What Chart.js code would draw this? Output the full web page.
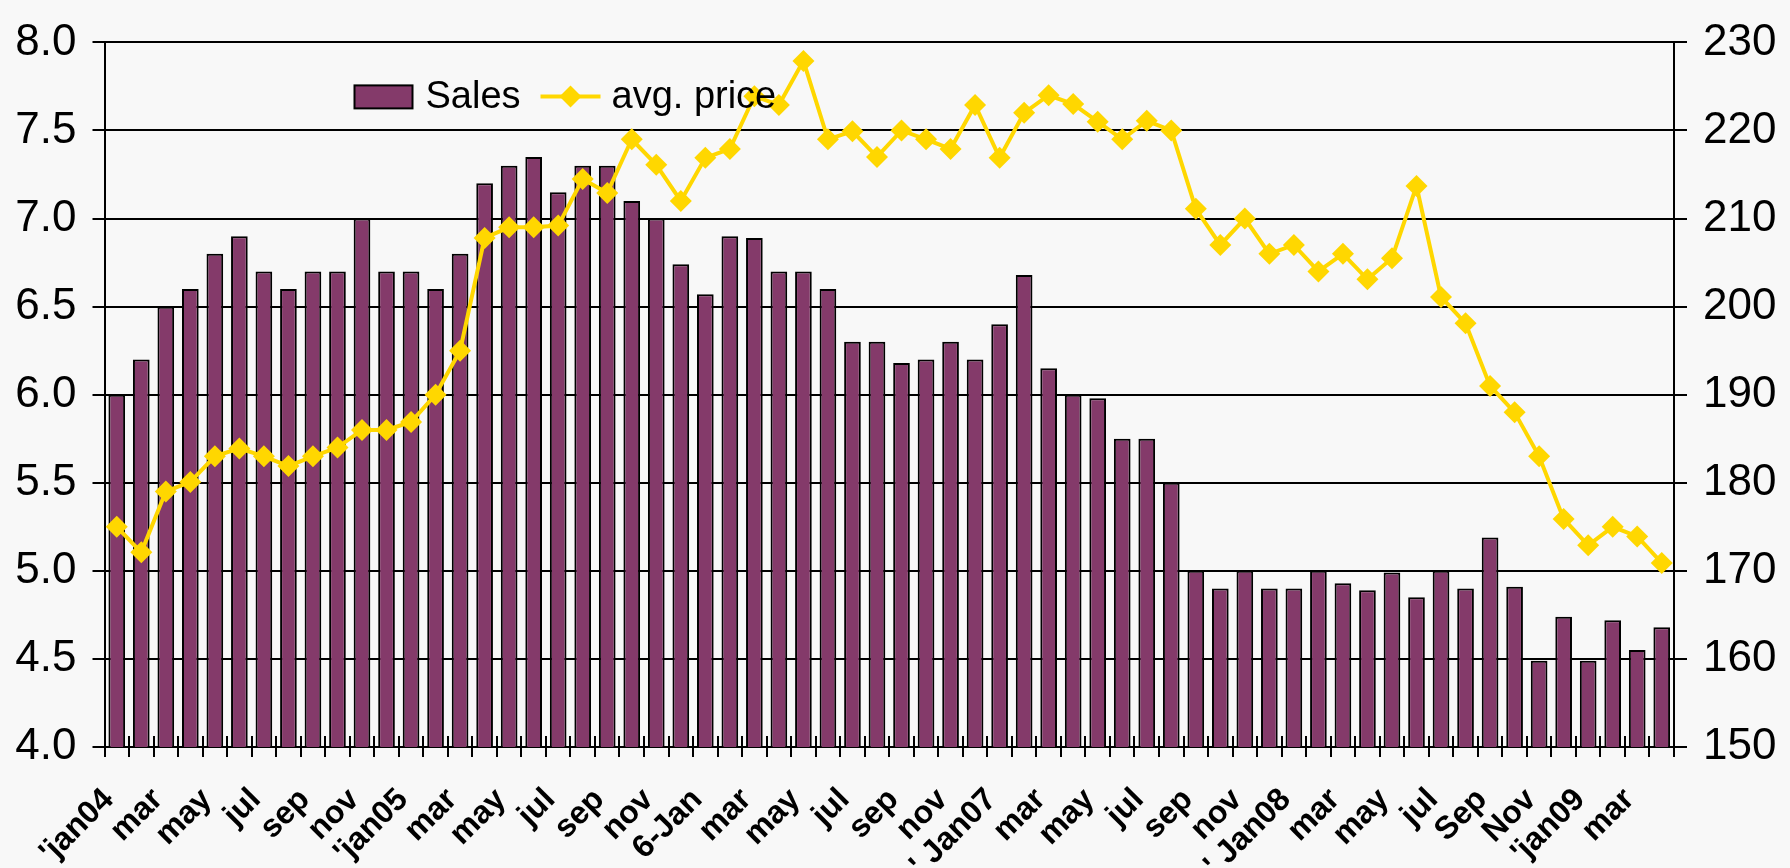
<!DOCTYPE html>
<html>
<head>
<meta charset="utf-8">
<script src="https://cdn.jsdelivr.net/npm/chart.js@4.4.0/dist/chart.umd.min.js"></script>
<style>
  html, body { margin: 0; padding: 0; background: #f8f8f8; }
  #wrap { width: 1790px; height: 868px; position: relative; }
</style>
</head>
<body>
<div id="wrap"><canvas id="salesChart"></canvas></div>
<script>
// Monthly sales and average price, jan 2004 - apr 2009

const months = [
  "jan04", "feb04", "mar04", "apr04", "may04", "jun04", "jul04", "aug04", "sep04", "oct04", "nov04", "dec04",
  "jan05", "feb05", "mar05", "apr05", "may05", "jun05", "jul05", "aug05", "sep05", "oct05", "nov05", "dec05",
  "jan06", "feb06", "mar06", "apr06", "may06", "jun06", "jul06", "aug06", "sep06", "oct06", "nov06", "dec06",
  "jan07", "feb07", "mar07", "apr07", "may07", "jun07", "jul07", "aug07", "sep07", "oct07", "nov07", "dec07",
  "jan08", "feb08", "mar08", "apr08", "may08", "jun08", "jul08", "aug08", "sep08", "oct08", "nov08", "dec08",
  "jan09", "feb09", "mar09", "apr09"
];

// axis labels, one every second month
const tickLabels = [
  "'jan04", "mar", "may", "jul", "sep", "nov",
  "'jan05", "mar", "may", "jul", "sep", "nov",
  "6-Jan", "mar", "may", "jul", "sep", "nov",
  "' Jan07", "mar", "may", "jul", "sep", "nov",
  "' Jan08", "mar", "may", "jul", "Sep", "Nov",
  "'jan09", "mar"
];

const sales = [
  6.0, 6.2, 6.5, 6.6, 6.8, 6.9, 6.7, 6.6, 6.7, 6.7,
  7.0, 6.7, 6.7, 6.6, 6.8, 7.2, 7.3, 7.35, 7.15, 7.3,
  7.3, 7.1, 7.0, 6.74, 6.57, 6.9, 6.89, 6.7, 6.7, 6.6,
  6.3, 6.3, 6.18, 6.2, 6.3, 6.2, 6.4, 6.68, 6.15, 6.0,
  5.98, 5.75, 5.75, 5.5, 5.0, 4.9, 5.0, 4.9, 4.9, 5.0,
  4.93, 4.89, 4.99, 4.85, 5.0, 4.9, 5.19, 4.91, 4.49, 4.74,
  4.49, 4.72, 4.55, 4.68
];

const avgPrice = [
  175, 172.1, 179, 180.1, 183, 183.9, 183, 181.9, 183, 184,
  186, 186, 186.9, 190, 195, 207.8, 209, 209, 209.2, 214.5,
  212.9, 219, 216.1, 212, 216.9, 217.9, 223.9, 222.9, 227.9, 219,
  219.9, 217, 220, 219, 217.9, 222.9, 216.9, 222, 224, 223,
  221, 219, 221.1, 220, 211.1, 207, 210, 206, 207, 204,
  206, 203.1, 205.5, 213.7, 201.1, 198.1, 191, 188, 183, 175.9,
  172.9, 175, 173.9, 170.9
];

const FONT = "'Liberation Sans', Arial, sans-serif";
const BAR_COLOR = "#843a6a";
const LINE_COLOR = "#ffd700";

// tick marks of the category axis also reach into the plot a little
const innerTicks = {
  id: "innerTicks",
  afterDatasetsDraw(chart) {
    const x = chart.scales.x;
    const ctx = chart.ctx;
    const bottom = chart.chartArea.bottom;
    const half = (x.getPixelForValue(1) - x.getPixelForValue(0)) / 2;
    ctx.save();
    ctx.strokeStyle = "#000";
    ctx.lineWidth = 2;
    ctx.beginPath();
    for (let i = 0; i <= months.length; i++) {
      const px = Math.round(x.getPixelForValue(i) - half);
      ctx.moveTo(px, bottom - 11);
      ctx.lineTo(px, bottom);
    }
    ctx.stroke();
    ctx.restore();
  }
};

// legend with a line + diamond sample, like the spreadsheet one
const sampleLegend = {
  id: "sampleLegend",
  afterDatasetsDraw(chart) {
    const ctx = chart.ctx;
    const left = chart.chartArea.left + 250;
    const cy = chart.chartArea.top + 54;
    ctx.save();
    ctx.fillStyle = BAR_COLOR;
    ctx.fillRect(left, cy - 11, 58, 23);
    ctx.strokeStyle = "#000";
    ctx.lineWidth = 2;
    ctx.strokeRect(left, cy - 11, 58, 23);

    ctx.fillStyle = "#000";
    ctx.font = "38px " + FONT;
    ctx.textBaseline = "middle";
    ctx.fillText("Sales", left + 71, cy + 1);

    const lx = left + 186;
    ctx.strokeStyle = LINE_COLOR;
    ctx.lineWidth = 4;
    ctx.beginPath();
    ctx.moveTo(lx, cy);
    ctx.lineTo(lx + 60, cy);
    ctx.stroke();
    ctx.fillStyle = LINE_COLOR;
    ctx.beginPath();
    ctx.moveTo(lx + 30 - 11, cy);
    ctx.lineTo(lx + 30, cy - 11);
    ctx.lineTo(lx + 30 + 11, cy);
    ctx.lineTo(lx + 30, cy + 11);
    ctx.closePath();
    ctx.fill();

    ctx.fillStyle = "#000";
    ctx.fillText("avg. price", lx + 71, cy + 1);
    ctx.restore();
  }
};

new Chart(document.getElementById("salesChart"), {
  type: "bar",
  data: {
    labels: months,
    datasets: [
      {
        type: "line",
        label: "avg. price",
        data: avgPrice,
        yAxisID: "y1",
        order: 0,
        borderColor: LINE_COLOR,
        backgroundColor: LINE_COLOR,
        borderWidth: 4,
        tension: 0,
        pointStyle: "rectRot",
        pointRadius: 11,
        pointBorderWidth: 0,
        pointBackgroundColor: LINE_COLOR
      },
      {
        label: "Sales",
        data: sales,
        yAxisID: "y",
        order: 1,
        backgroundColor: BAR_COLOR,
        borderColor: "#000",
        borderWidth: 2,
        barPercentage: 0.68,
        categoryPercentage: 1.0
      }
    ]
  },
  options: {
    responsive: true,
    maintainAspectRatio: false,
    animation: false,
    layout: { padding: { top: 26, left: 0, right: 0, bottom: 0 } },
    plugins: {
      legend: { display: false },
      tooltip: { enabled: false }
    },
    scales: {
      x: {
        offset: true,
        grid: {
          offset: true,
          drawOnChartArea: false,
          drawTicks: true,
          tickLength: 10,
          color: "#000",
          lineWidth: 2
        },
        border: { display: true, color: "#000", width: 2 },
        ticks: {
          autoSkip: false,
          maxRotation: 45,
          minRotation: 45,
          padding: 24,
          labelOffset: -8,
          color: "#000",
          font: { family: FONT, size: 32, weight: "bold" },
          callback: (value, index) => (index % 2 === 0 ? tickLabels[index / 2] : "")
        },
        afterFit: (scale) => { scale.height = 121; }
      },
      y: {
        position: "left",
        min: 4,
        max: 8,
        grid: { color: "#000", lineWidth: 2, tickLength: 12 },
        border: { display: true, color: "#000", width: 2 },
        ticks: {
          stepSize: 0.5,
          padding: 16,
          color: "#000",
          font: { family: FONT, size: 44 },
          callback: (v) => v.toFixed(1)
        },
        afterFit: (scale) => { scale.width = 104.5; }
      },
      y1: {
        position: "right",
        min: 150,
        max: 230,
        grid: { drawOnChartArea: false, color: "#000", lineWidth: 2, tickLength: 13 },
        border: { display: true, color: "#000", width: 2 },
        ticks: {
          stepSize: 10,
          padding: 16,
          color: "#000",
          font: { family: FONT, size: 44 }
        },
        afterFit: (scale) => { scale.width = 116; }
      }
    }
  },
  plugins: [innerTicks, sampleLegend]
});
</script>
</body>
</html>
